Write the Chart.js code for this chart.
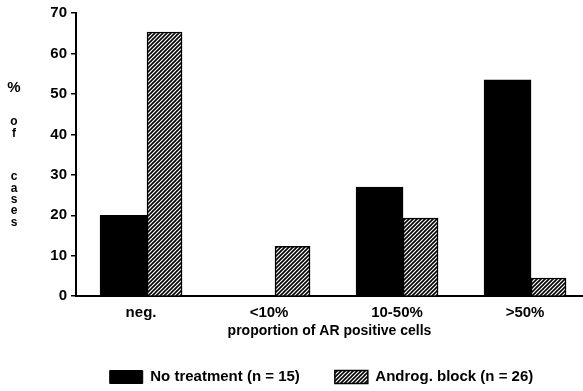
<!DOCTYPE html>
<html>
<head>
<meta charset="utf-8">
<script src="https://cdn.jsdelivr.net/npm/chart.js@4.4.1/dist/chart.umd.min.js"></script>
<style>
  html, body { margin: 0; padding: 0; background: #fff; }
  #wrap { width: 583px; height: 391px; }
</style>
</head>
<body>
<div id="wrap"><canvas id="arChart"></canvas></div>
<script>
// Data
const categories = ['neg.', '<10%', '10-50%', '>50%'];
const noTreatment = [20, 0, 27, 53.5];
const androgBlock = [65.3, 12.3, 19.3, 4.5];
const seriesLabels = ['No treatment (n = 15)', 'Androg. block (n = 26)'];
const yTicks = [0, 10, 20, 30, 40, 50, 60, 70];
const xTitle = 'proportion of AR positive cells';
const yTitleGroups = [['%'], ['o', 'f'], ['c', 'a', 's', 'e', 's']];

const FONT = "'Liberation Sans', Arial, Helvetica, sans-serif";

// diagonal hatch fill
function makeHatch() {
    const c = document.createElement('canvas');
    c.width = 4; c.height = 4;
    const g = c.getContext('2d');
    g.fillStyle = '#fff';
    g.fillRect(0, 0, 4, 4);
    g.strokeStyle = '#000';
    g.lineWidth = 1.6;
    g.beginPath();
    g.moveTo(-1, 5); g.lineTo(5, -1);
    g.moveTo(-1, 1); g.lineTo(1, -1);
    g.moveTo(3, 5); g.lineTo(5, 3);
    g.stroke();
    return g.createPattern(c, 'repeat');
}

// stacked letters on the left ("% of cases")
const yTitlePlugin = {
    id: 'yTitle',
    afterDraw(chart) {
        const ctx = chart.ctx;
        const starts = [88, 122, 177];
        ctx.save();
        ctx.fillStyle = '#000';
        ctx.textAlign = 'center';
        ctx.textBaseline = 'middle';
        yTitleGroups.forEach((group, gi) => {
            group.forEach((ch, i) => {
                ctx.font = (ch === '%' ? 'bold 15px ' : 'bold 12px ') + FONT;
                ctx.fillText(ch, 14, starts[gi] + i * 11.3);
            });
        });
        ctx.restore();
    }
};

// legend: keep its box short and sit it a bit right of centre, as in the original
const legendPlace = {
    id: 'legendPlace',
    beforeUpdate(chart) {
        const lg = chart.legend;
        if (!lg || lg._patched) return;
        const fit = lg.fit.bind(lg);
        lg.fit = function () { fit(); this.height = 49; };
        lg._patched = true;
    },
    afterLayout(chart) {
        const lg = chart.legend;
        if (!lg) return;
        lg.left += 30;
        lg.right += 30;
        lg.top = 377 - 7.5 - 35;
    }
};

const hatch = makeHatch();

new Chart(document.getElementById('arChart'), {
    type: 'bar',
    data: {
        datasets: [
            {
                label: seriesLabels[0],
                data: noTreatment.map((v, i) => ({ x: i, y: v })),
                backgroundColor: '#000',
                borderColor: '#000',
                borderWidth: 1,
                barThickness: 47
            },
            {
                label: seriesLabels[1],
                data: androgBlock.map((v, i) => ({ x: i, y: v })),
                backgroundColor: hatch,
                borderColor: '#000',
                borderWidth: 1.5,
                barThickness: 35
            }
        ]
    },
    plugins: [yTitlePlugin, legendPlace],
    options: {
        responsive: true,
        maintainAspectRatio: false,
        animation: false,
        layout: { padding: { top: 13, right: 0, bottom: 2, left: 0 } },
        scales: {
            x: {
                type: 'linear',
                offset: false,
                min: -0.555,
                max: 3.406,
                afterBuildTicks: scale => {
                    scale.ticks = categories.map((_, i) => ({ value: i }));
                },
                grid: { display: false, drawTicks: false, tickLength: 0 },
                border: { display: true, color: '#000', width: 2 },
                ticks: {
                    color: '#000',
                    font: { family: FONT, size: 15, weight: 'bold' },
                    padding: 8,
                    labelOffset: -6,
                    callback: v => categories[v]
                },
                title: {
                    display: true,
                    text: xTitle,
                    color: '#000',
                    font: { family: FONT, size: 14, weight: 'bold' },
                    padding: { top: -7, bottom: 0 }
                }
            },
            y: {
                min: 0,
                max: 70,
                afterBuildTicks: scale => {
                    scale.ticks = yTicks.map(v => ({ value: v }));
                },
                afterFit: scale => { scale.width = 76; },
                grid: {
                    drawOnChartArea: false,
                    drawTicks: true,
                    tickLength: 5,
                    color: '#000',
                    lineWidth: 1.5
                },
                border: { display: true, color: '#000', width: 2 },
                ticks: {
                    color: '#000',
                    font: { family: FONT, size: 15, weight: 'bold' },
                    padding: 4
                }
            }
        },
        plugins: {
            legend: {
                position: 'bottom',
                labels: {
                    color: '#000',
                    font: { family: FONT, size: 15, weight: 'bold' },
                    boxWidth: 33,
                    boxHeight: 13,
                    padding: 35
                }
            },
            tooltip: { enabled: false }
        }
    }
});
</script>
</body>
</html>
